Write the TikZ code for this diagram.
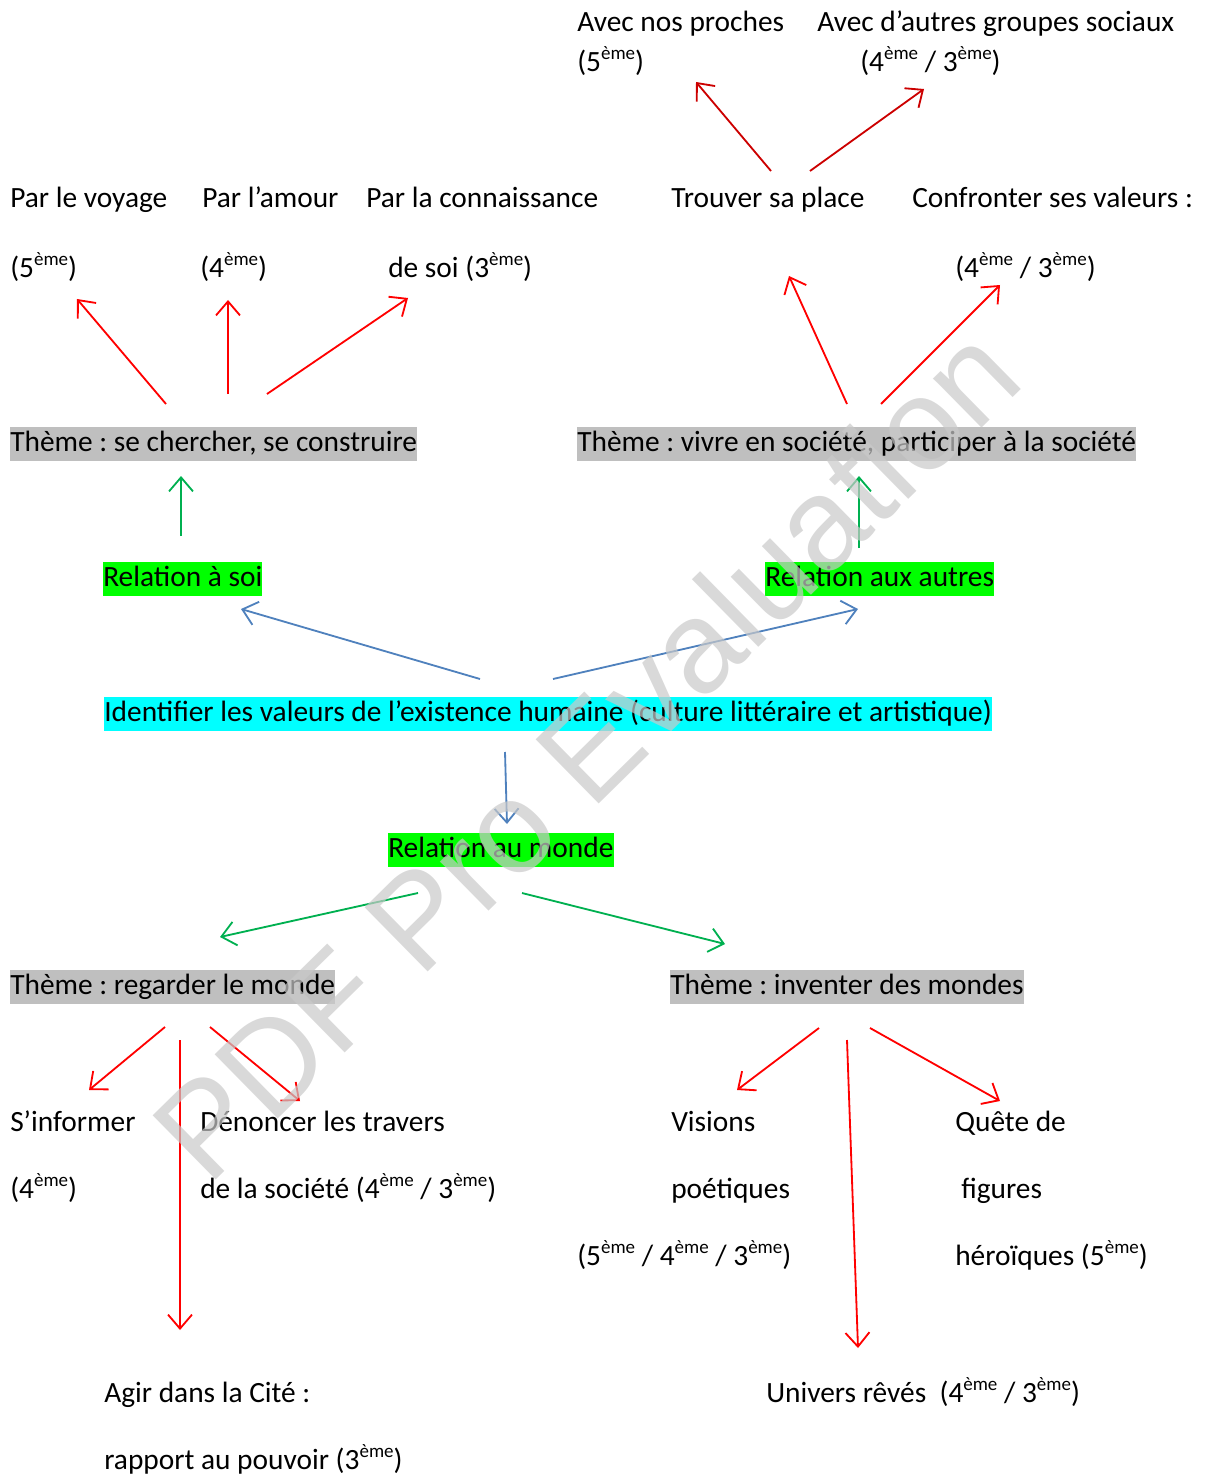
\documentclass[tikz,border=0pt]{standalone}
\usepackage{fontspec}
\setmainfont{Carlito}
\newfontfamily\wmfont{Liberation Sans}
\usetikzlibrary{arrows.meta,positioning}
\frenchspacing

\definecolor{boxgray}{RGB}{191,191,191}
\definecolor{relgreen}{RGB}{0,255,0}
\definecolor{boxcyan}{RGB}{0,255,255}
\definecolor{arrgreen}{RGB}{0,176,80}
\definecolor{arrblue}{RGB}{79,129,189}
\definecolor{arrred}{RGB}{255,0,0}
\definecolor{darkred}{RGB}{204,0,0}

\newcommand{\eme}{\raisebox{0.42em}{\fontsize{13.5}{14}\selectfont ème}}

\begin{document}
\begin{tikzpicture}[x=0.025cm, y=-0.025cm,
    txt/.style={anchor=west, inner xsep=0pt, inner ysep=0.06cm,
        text height=0.56cm, text depth=0.17cm,
        font=\fontsize{20.9}{25}\selectfont},
    theme/.style={txt, fill=boxgray},
    rel/.style={txt, fill=relgreen},
    conn/.style={-{Straight Barb[length=3.5mm,width=6mm]}, line width=1.3pt}]
    \useasboundingbox (0,0) rectangle (1204,1477);

    % top right
    \node[txt] (proches) at (577,24) {Avec nos proches};
    \node[txt] (proches5) at (577,64) {(5\eme)};
    \node[txt] (groupes) at (817,24) {Avec d’autres groupes sociaux};
    \node[txt] (groupes43) at (860,64) {(4\eme{} / 3\eme)};

    % second row
    \node[txt] (voyage) at (10,200) {Par le voyage};
    \node[txt] (voyage5) at (10,270) {(5\eme)};
    \node[txt] (amour) at (202,200) {Par l’amour};
    \node[txt] (amour4) at (200,270) {(4\eme)};
    \node[txt] (connaissance) at (366,200) {Par la connaissance};
    \node[txt] (soi3) at (388,270) {de soi (3\eme)};
    \node[txt] (place) at (671,200) {Trouver sa place};
    \node[txt] (valeurs) at (912,200) {Confronter ses valeurs :};
    \node[txt] (valeurs43) at (955,270) {(4\eme{} / 3\eme)};

    % themes and relations
    \node[theme] (chercher) at (10,444) {Thème : se chercher, se construire};
    \node[theme] (societe) at (577,444) {Thème : vivre en société, participer à la société};
    \node[rel] (soi) at (103,579) {Relation à soi};
    \node[rel] (autres) at (765,579) {Relation aux autres};
    \node[txt, fill=boxcyan] (existence) at (104,714) {Identifier les valeurs de l’existence humaine (culture littéraire et artistique)};
    \node[rel] (monde) at (388,850) {Relation au monde};
    \node[theme] (regarder) at (10,987) {Thème : regarder le monde};
    \node[theme] (inventer) at (670,987) {Thème : inventer des mondes};

    % bottom
    \node[txt] (informer) at (10,1124) {S’informer};
    \node[txt] (informer4) at (10,1191) {(4\eme)};
    \node[txt] (denoncer) at (200,1124) {Dénoncer les travers};
    \node[txt] (denoncer43) at (200,1191) {de la société (4\eme{} / 3\eme)};
    \node[txt] (visions) at (671,1124) {Visions};
    \node[txt] (poetiques) at (671,1191) {poétiques};
    \node[txt] (visions543) at (577,1258) {(5\eme{} / 4\eme{} / 3\eme)};
    \node[txt] (quete) at (955,1124) {Quête de};
    \node[txt] (figures) at (961,1191) {figures};
    \node[txt] (heroiques) at (955,1258) {héroïques (5\eme)};
    \node[txt] (agir) at (104,1395) {Agir dans la Cité :};
    \node[txt] (pouvoir) at (104,1462) {rapport au pouvoir (3\eme)};
    \node[txt] (univers) at (766,1395) {Univers rêvés~ (4\eme{} / 3\eme)};

    % arrow ends
    \foreach \name/\sx/\sy/\ex/\ey in {
        pr/771/171/696/82, gr/810/171/924/89,
        vo/166/404/77/299, am/228/394/228/300, co/267/394/408/298,
        pl/847/404/789/276, va/881/404/1000/285,
        cs/181/536/181/476, ss/859/548/859/476,
        rs/480/679/241/609, ra/553/679/858/609, rm/505/752/507/824,
        mr/418/893/220/937, mi/522/893/725/944,
        in/165/1027/89/1090, de/210/1027/300/1101, ag/180/1040/180/1330,
        vi/819/1028/737/1090, un/847/1040/858/1348, qu/870/1028/1000/1101} {
        \coordinate (\name-s) at (\sx,\sy);
        \coordinate (\name-e) at (\ex,\ey);
    }

    % links
    \foreach \name in {pr,gr}
        \draw[conn, darkred] (\name-s) -- (\name-e);
    \foreach \name in {vo,am,co,pl,va,in,de,ag,vi,un,qu}
        \draw[conn, arrred] (\name-s) -- (\name-e);
    \foreach \name in {cs,ss,mr,mi}
        \draw[conn, arrgreen] (\name-s) -- (\name-e);
    \foreach \name in {rs,ra,rm}
        \draw[conn, arrblue] (\name-s) -- (\name-e);

    % watermark
    \node[rotate=44.5, text=black!21, opacity=0.7,
        font=\wmfont\fontsize{93}{93}\selectfont] (watermark) at (585,752) {PDF Pro Evaluation};
\end{tikzpicture}
\end{document}
